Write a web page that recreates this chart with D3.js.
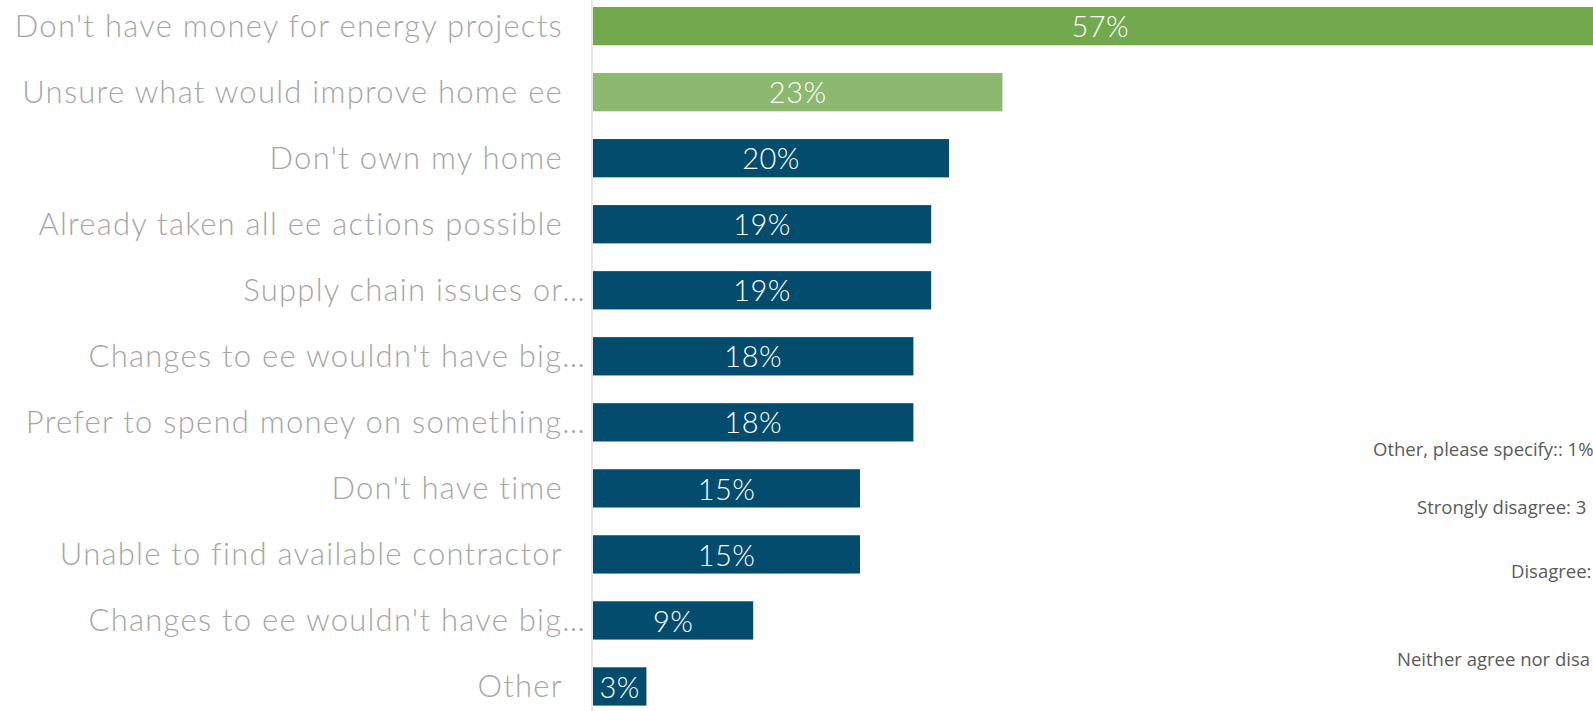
<!DOCTYPE html>
<html>
<head>
<meta charset="utf-8">
<script src="https://cdn.jsdelivr.net/npm/d3@7"></script>
<style>
  html, body { margin: 0; padding: 0; background: #fff; overflow: hidden; }
  svg { display: block; }
</style>
</head>
<body>
<svg width="1593" height="711"></svg>
<script>
const categories = [
  "Don't have money for energy projects",
  "Unsure what would improve home ee",
  "Don't own my home",
  "Already taken all ee actions possible",
  "Supply chain issues or…",
  "Changes to ee wouldn't have big…",
  "Prefer to spend money on something…",
  "Don't have time",
  "Unable to find available contractor",
  "Changes to ee wouldn't have big…",
  "Other"
]
const values = [57, 23, 20, 19, 19, 18, 18, 15, 15, 9, 3]
const barColors = ['#72a84e', '#8db870', '#034c6e', '#034c6e', '#034c6e', '#034c6e',
                   '#034c6e', '#034c6e', '#034c6e', '#034c6e', '#034c6e']
// leftover labels of a neighbouring pie chart, as much as is visible at the right edge
const sideLabels = [
  'Other, please specify:: 1%',
  'Strongly disagree: 3',
  'Disagree:',
  'Neither agree nor disa'
]

const svg = d3.select('svg')
const width = +svg.attr('width')
const height = +svg.attr('height')

const axisX = 592
const rows = categories.map((c, i) => ({ key: i, label: c, value: values[i], color: barColors[i] }))

const xScale = d3.scaleLinear()
  .domain([0, 57])
  .range([axisX + 1, axisX + 1 + 57 * 17.8])

const yScale = d3.scaleBand()
  .domain(rows.map(d => d.key))
  .range([7, 705.6])
  .paddingInner(0.42)
  .paddingOuter(0)

// category labels
svg.append('g').selectAll('text').data(rows)
  .enter().append('text')
    .attr('x', d => d.label.endsWith('…') ? axisX - 6 : axisX - 29)
    .attr('y', d => yScale(d.key) + yScale.bandwidth() / 2)
    .attr('dy', '0.35em')
    .attr('text-anchor', 'end')
    .style('font-family', 'Lato, sans-serif')
    .style('font-weight', 300)
    .style('font-size', '31px')
    .style('letter-spacing', '1.25px')
    .style('fill', '#a6a6a6')
    .text(d => d.label)

// bars
svg.append('g').selectAll('rect').data(rows)
  .enter().append('rect')
    .attr('x', xScale(0))
    .attr('y', d => yScale(d.key))
    .attr('width', d => xScale(d.value) - xScale(0))
    .attr('height', yScale.bandwidth())
    .attr('fill', d => d.color)

// value labels
svg.append('g').selectAll('text').data(rows)
  .enter().append('text')
    .attr('x', d => (xScale(0) + xScale(d.value)) / 2)
    .attr('y', d => yScale(d.key) + yScale.bandwidth() / 2 + 1)
    .attr('dy', '0.35em')
    .attr('text-anchor', 'middle')
    .style('font-family', 'Lato, sans-serif')
    .style('font-weight', 300)
    .style('font-size', '29px')
    .style('letter-spacing', '0.5px')
    .style('fill', '#fff')
    .text(d => d.value + '%')

// axis line
svg.append('line')
  .attr('x1', axisX).attr('x2', axisX)
  .attr('y1', 0).attr('y2', height)
  .attr('stroke', '#e0e0e0')
  .attr('stroke-width', 1.5)

const sideX = [1373, 1417, 1511, 1397]
const sideY = [450, 508, 572, 660]
svg.append('g').selectAll('text').data(sideLabels)
  .enter().append('text')
    .attr('x', (d, i) => sideX[i])
    .attr('y', (d, i) => sideY[i])
    .attr('dy', '0.35em')
    .style('font-family', "'Open Sans', sans-serif")
    .style('font-size', '18.5px')
    .style('fill', '#5a5a5a')
    .text(d => d)
</script>
</body>
</html>
